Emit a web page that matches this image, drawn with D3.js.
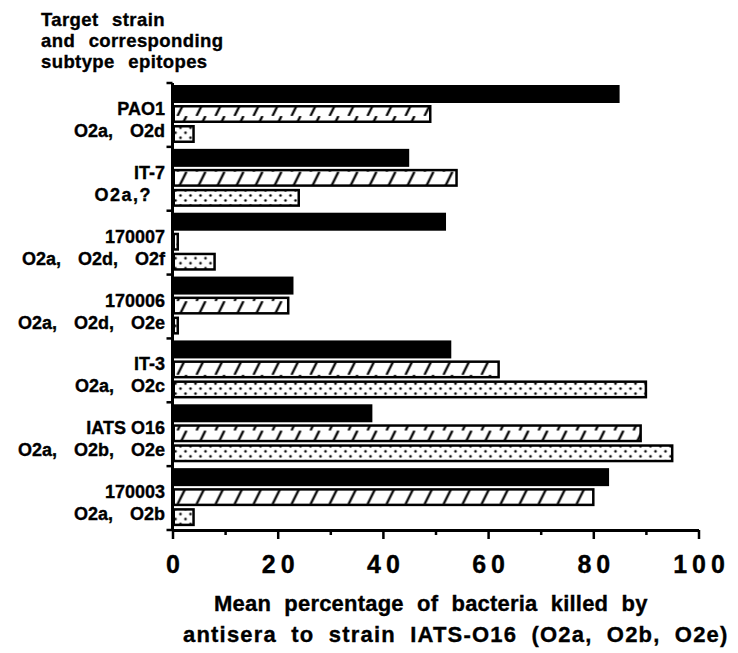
<!DOCTYPE html>
<html>
<head>
<meta charset="utf-8">
<script src="https://cdn.jsdelivr.net/npm/d3@7"></script>
<style>
body { margin: 0; background: #fff; }
text { font-family: "Liberation Sans", Arial, Helvetica, sans-serif; font-weight: bold; fill: #000; stroke: #000; stroke-width: 0.35px; }
</style>
</head>
<body>
<svg id="chart" width="738" height="653"></svg>
<script>
// data
const strains = ["PAO1", "IT-7", "170007", "170006", "IT-3", "IATS O16", "170003"];
const epitopes = ["O2a, O2d", "O2a,?", "O2a, O2d, O2f", "O2a, O2d, O2e", "O2a, O2c", "O2a, O2b, O2e", "O2a, O2b"];
const seriesKeys = ["solid", "hatched", "dotted"];
const solidValues = [85, 45, 52, 23, 53, 38, 83];
const hatchedValues = [49, 54, 1, 22, 62, 89, 80];
const dottedValues = [4, 24, 8, 1, 90, 95, 4];
const majorTicks = [0, 20, 40, 60, 80, 100];
const minorTicks = [10, 30, 50, 70, 90];
const headerLines = ["Target strain", "and corresponding", "subtype epitopes"];
const xTitleLines = ["Mean percentage of bacteria killed by", "antisera to strain IATS-O16 (O2a, O2b, O2e)"];

const seriesValues = {solid: solidValues, hatched: hatchedValues, dotted: dottedValues};

let svg = d3.select("#chart");
let defs = svg.append("defs");

// layout
let x = d3.scaleLinear().domain([0, 100]).range([172.5, 698.5]);
let y = d3.scaleBand().domain(strains).range([83, 530]).paddingInner(0).paddingOuter(0);
let inner = d3.scaleBand().domain(seriesKeys).range([2, 60]).paddingInner(0.1);
const outline = 2.5;

// one hatch + one dot pattern per group so the fill lines up with each bar
strains.forEach((s, i) => {
    let bh = inner.bandwidth();
    let hy = y(s) + inner("hatched");
    let p = defs.append("pattern")
        .attr("id", "hatch" + i)
        .attr("patternUnits", "userSpaceOnUse")
        .attr("x", x(0) + 4).attr("y", hy)
        .attr("width", 19).attr("height", bh);
    p.append("rect").attr("width", 19).attr("height", bh).attr("fill", "#fff");
    p.append("line")
        .attr("x1", 1).attr("y1", bh)
        .attr("x2", 10).attr("y2", 0)
        .attr("stroke", "#000").attr("stroke-width", 2.3);

    let dy = y(s) + inner("dotted") + outline / 2;
    let d = defs.append("pattern")
        .attr("id", "dots" + i)
        .attr("patternUnits", "userSpaceOnUse")
        .attr("x", x(0)).attr("y", dy)
        .attr("width", 10).attr("height", 10);
    d.append("rect").attr("width", 10).attr("height", 10).attr("fill", "#fff");
    d.append("circle").attr("cx", 3).attr("cy", 3.5).attr("r", 1.3).attr("fill", "#000");
    d.append("circle").attr("cx", 8).attr("cy", 8.5).attr("r", 1.3).attr("fill", "#000");
});

// bars
let groups = svg.selectAll(".group")
    .data(strains)
    .enter()
    .append("g")
    .attr("class", "group")
    .attr("transform", d => `translate(0, ${y(d)})`);

groups.each(function(s, i) {
    let g = d3.select(this);
    seriesKeys.forEach(k => {
        let v = seriesValues[k][i];
        if (k === "solid") {
            g.append("rect")
                .attr("x", x(0))
                .attr("y", inner(k))
                .attr("width", x(v) - x(0))
                .attr("height", inner.bandwidth())
                .attr("fill", "#000");
        } else {
            g.append("rect")
                .attr("x", x(0) + outline / 2)
                .attr("y", inner(k) + outline / 2)
                .attr("width", Math.max(0.5, x(v) - x(0) - outline / 2))
                .attr("height", inner.bandwidth() - outline)
                .attr("fill", k === "dotted" ? `url(#dots${i})` : `url(#hatch${i})`)
                .attr("stroke", "#000")
                .attr("stroke-width", outline);
        }
    });
    // strain name and epitopes
    let q = epitopes[i].indexOf("?") >= 0;
    g.append("text")
        .attr("x", 165).attr("y", 32)
        .attr("text-anchor", "end")
        .style("font-size", "18px")
        .text(s);
    g.append("text")
        .attr("x", q ? 152 : 165).attr("y", 54)
        .attr("text-anchor", "end")
        .style("font-size", "18px")
        .style("word-spacing", "12px")
        .style("letter-spacing", q ? "1.5px" : "0px")
        .text(epitopes[i]);
});

// y axis with ticks at the group borders
let yEdges = strains.map(s => y(s)).concat([y.range()[1]]);
svg.append("line")
    .attr("x1", x(0)).attr("x2", x(0))
    .attr("y1", y.range()[0]).attr("y2", y.range()[1])
    .attr("stroke", "#000").attr("stroke-width", 3);
svg.selectAll(".ytick")
    .data(yEdges)
    .enter()
    .append("line")
    .attr("class", "ytick")
    .attr("x1", x(0) - 6).attr("x2", x(0))
    .attr("y1", d => d).attr("y2", d => d)
    .attr("stroke", "#000").attr("stroke-width", 2.5);

// x axis
let axisY = y.range()[1];
let xAxisG = svg.append("g")
    .attr("transform", `translate(0, ${axisY})`)
    .call(d3.axisBottom(x).tickValues(majorTicks).tickSize(9).tickSizeOuter(0).tickFormat(d3.format("d")));
xAxisG.select(".domain").attr("stroke-width", 3);
xAxisG.selectAll(".tick line").attr("stroke-width", 2.5);
xAxisG.selectAll(".tick text")
    .attr("y", 0)
    .attr("dy", 43)
    .attr("dx", 2.5)
    .attr("fill", "#000")
    .style("font-size", "25px")
    .style("letter-spacing", "5px")
    .style("font-family", "'Liberation Sans', Arial, sans-serif")
    .style("font-weight", "bold");

let minorG = svg.append("g")
    .attr("transform", `translate(0, ${axisY})`)
    .call(d3.axisBottom(x).tickValues(minorTicks).tickSize(5).tickSizeOuter(0).tickFormat(""));
minorG.select(".domain").remove();
minorG.selectAll(".tick line").attr("stroke-width", 2.5);

// header over the strain labels
svg.append("g").selectAll("text")
    .data(headerLines)
    .enter()
    .append("text")
    .attr("x", 41)
    .attr("y", (d, i) => 26 + i * 21)
    .style("font-size", "18.5px")
    .style("word-spacing", "8px")
    .style("letter-spacing", "0.4px")
    .text(d => d);

// x axis title
svg.append("g").selectAll("text")
    .data(xTitleLines)
    .enter()
    .append("text")
    .attr("x", (d, i) => i === 0 ? 214 : 183)
    .attr("y", (d, i) => 611 + i * 31)
    .style("font-size", "22px")
    .style("letter-spacing", (d, i) => i === 0 ? "0.2px" : "1.2px")
    .style("word-spacing", "7px")
    .text(d => d);
</script>
</body>
</html>
